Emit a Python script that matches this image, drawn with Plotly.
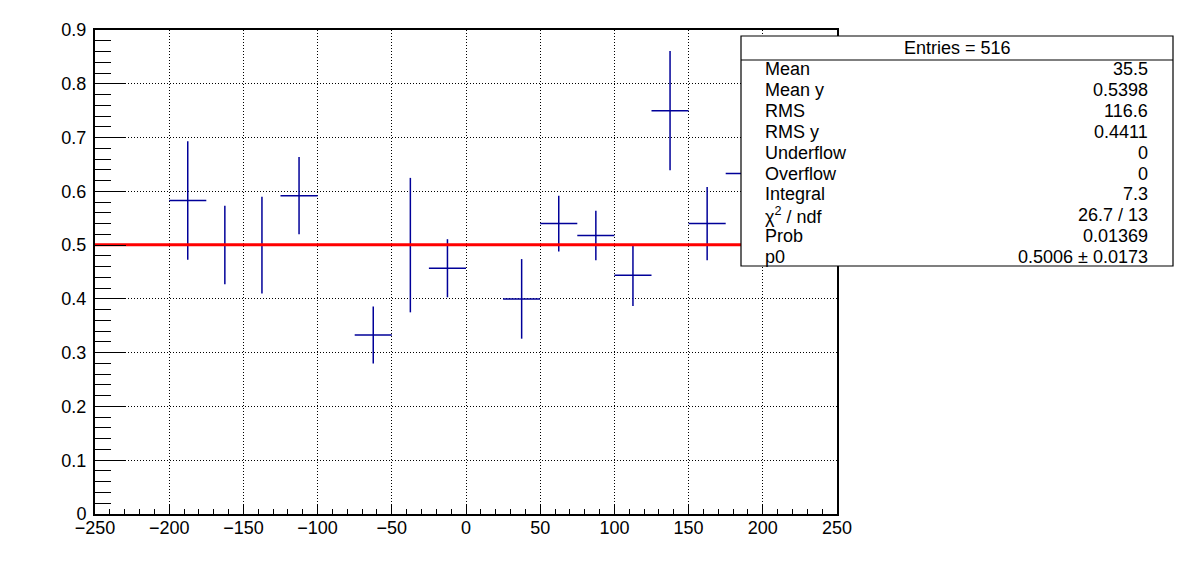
import plotly.graph_objects as go

# ---- data ----
bin_centers = [-187.5, -162.5, -137.5, -112.5, -62.5, -37.5, -12.5,
               37.5, 62.5, 87.5, 112.5, 137.5, 162.5, 187.5]
bin_values = [0.583, 0.500, 0.500, 0.592, 0.333, 0.500, 0.457,
              0.400, 0.540, 0.518, 0.444, 0.750, 0.540, 0.633]
bin_errors = [0.110, 0.073, 0.090, 0.072, 0.053, 0.125, 0.054,
              0.074, 0.052, 0.046, 0.057, 0.111, 0.068, 0.060]
bin_half_width = 12.5

fit_p0 = 0.5006
fit_range = [-250, 250]

stats_header = "Entries = 516"
stats_labels = ["Mean", "Mean y", "RMS", "RMS y", "Underflow", "Overflow",
                "Integral", "χ<sup>2</sup> / ndf", "Prob", "p0"]
stats_values = ["35.5", "0.5398", "116.6", "0.4411", "0", "0",
                "7.3", "26.7 / 13", "0.01369", "0.5006 ± 0.0173"]

# ---- layout geometry (pixels of the browser window) ----
OFF = 8                      # default body margin of the html page
W, H = 1196 - 2 * OFF, 572 - 2 * OFF
L, R, T, B = 95, 837, 30, 514


def px_x(x):
    return (x - L) / (R - L)


def px_y(y):
    return (B - y) / (B - T)


FONT = "Liberation Sans, Arial, Helvetica, sans-serif"
NAVY = "#000099"
FS = 18

fig = go.Figure()

fig.add_trace(go.Scatter(
    x=bin_centers, y=bin_values, mode="markers",
    marker=dict(size=1, color=NAVY, opacity=0),
    error_x=dict(type="constant", value=bin_half_width, width=0,
                 thickness=1.5, color=NAVY),
    error_y=dict(type="data", array=bin_errors, width=0,
                 thickness=1.5, color=NAVY),
    hoverinfo="skip", showlegend=False,
))

fig.add_trace(go.Scatter(
    x=fit_range, y=[fit_p0, fit_p0], mode="lines",
    line=dict(color="#ff0000", width=3),
    hoverinfo="skip", showlegend=False,
))

axis_common = dict(
    showline=True, linecolor="black", linewidth=2, mirror=True,
    showgrid=True, gridcolor="black", gridwidth=1, griddash="1px,2px",
    zeroline=False, ticks="inside", tickcolor="black", tickwidth=1,
    tickfont=dict(family=FONT, size=FS, color="black"),
)

fig.update_xaxes(
    range=[-250, 250], dtick=50, tick0=0, ticklen=10,
    ticklabelstandoff=-4,
    minor=dict(dtick=10, ticklen=5, ticks="inside", tickcolor="black",
               showgrid=False),
    **axis_common,
)
fig.update_yaxes(
    range=[0, 0.9], dtick=0.1, tick0=0, ticklen=31,
    ticklabelstandoff=3,
    minor=dict(dtick=0.02, ticklen=16, ticks="inside", tickcolor="black",
               showgrid=False),
    **axis_common,
)

# stats box
bx0, bx1, by0, by1, bdiv = 741, 1173, 36, 266, 60
fig.add_shape(type="rect", xref="paper", yref="paper",
              x0=px_x(bx0), x1=px_x(bx1), y0=px_y(by1), y1=px_y(by0),
              line=dict(color="black", width=1.2), fillcolor="white",
              layer="above")
fig.add_shape(type="line", xref="paper", yref="paper",
              x0=px_x(bx0), x1=px_x(bx1), y0=px_y(bdiv), y1=px_y(bdiv),
              line=dict(color="black", width=1.2), layer="above")

fig.add_annotation(xref="paper", yref="paper",
                   x=px_x((bx0 + bx1) / 2), y=px_y(47.5),
                   text=stats_header, showarrow=False,
                   xanchor="center", yanchor="middle",
                   font=dict(family=FONT, size=FS, color="black"))

row0, row_step = 69.5, 20.8
for i, (lab, val) in enumerate(zip(stats_labels, stats_values)):
    yy = px_y(row0 + i * row_step)
    fig.add_annotation(xref="paper", yref="paper", x=px_x(763), y=yy,
                       text=lab, showarrow=False, xanchor="left",
                       yanchor="middle",
                       font=dict(family=FONT, size=FS, color="black"))
    fig.add_annotation(xref="paper", yref="paper", x=px_x(1150), y=yy,
                       text=val, showarrow=False, xanchor="right",
                       yanchor="middle",
                       font=dict(family=FONT, size=FS, color="black"))

fig.update_layout(
    width=W, height=H,
    margin=dict(l=L - OFF, r=W - (R - OFF), t=T - OFF, b=H - (B - OFF), pad=0),
    paper_bgcolor="white", plot_bgcolor="white",
    showlegend=False,
)

fig.write_html("out.html")
